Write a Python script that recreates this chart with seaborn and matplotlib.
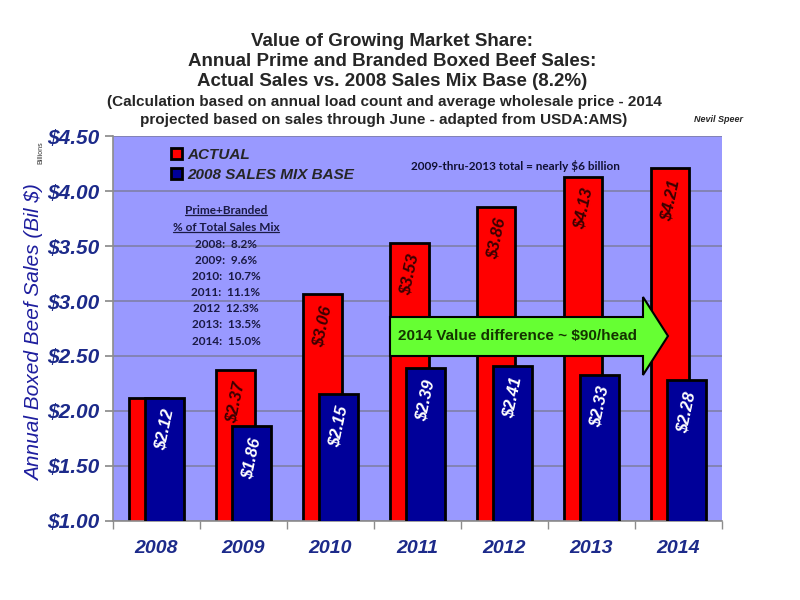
import matplotlib
matplotlib.use('Agg')
import matplotlib.pyplot as plt
import seaborn as sns
import pandas as pd
from matplotlib.patches import Polygon
from matplotlib.lines import Line2D
from matplotlib.ticker import FixedLocator

# ---------------- data ----------------
years = ['2008', '2009', '2010', '2011', '2012', '2013', '2014']
actual = [2.12, 2.37, 3.06, 3.53, 3.86, 4.13, 4.21]
base = [2.12, 1.86, 2.15, 2.39, 2.41, 2.33, 2.28]
series_names = ['ACTUAL', '2008 SALES MIX BASE']
y_ticks = [1.00, 1.50, 2.00, 2.50, 3.00, 3.50, 4.00, 4.50]
mix_header = ['Prime+Branded', '% of Total Sales Mix']
mix_rows = ['2008:  8.2%', '2009:  9.6%', '2010:  10.7%', '2011:  11.1%',
            '2012  12.3%', '2013:  13.5%', '2014:  15.0%']
title_lines = ['Value of Growing Market Share:',
               'Annual Prime and Branded Boxed Beef Sales:',
               'Actual Sales vs. 2008 Sales Mix Base (8.2%)']
sub_lines = ['(Calculation based on annual load count and average wholesale price - 2014',
             'projected based on sales through June - adapted from USDA:AMS)']
note_total = '2009-thru-2013 total = nearly $6 billion'
arrow_text = '2014 Value difference ~ $90/head'

RED = '#FF0000'
BLUE = '#000099'
BG = '#9999FF'
TICKBLUE = '#1C2A8A'

df = pd.DataFrame({
    'year': years * 2,
    'value': actual + base,
    'series': [series_names[0]] * len(years) + [series_names[1]] * len(years),
})

sns.set_theme(style='white')
plt.rcParams['font.family'] = ['Liberation Sans', 'DejaVu Sans']

fig = plt.figure(figsize=(8, 6), dpi=100)
fig.patch.set_facecolor('white')
ax = fig.add_axes([0.141, 0.132, 0.761, 0.641])
ax.set_facecolor(BG)

sns.barplot(data=df, x='year', y='value', hue='series', hue_order=series_names,
            palette=[RED, BLUE], saturation=1, width=0.88, dodge=True,
            edgecolor='black', linewidth=2, ax=ax)

# overlap the two bars in each group
shifts = [0.13, -0.125]
zs = [2, 4]
for cont, sh, z in zip(ax.containers, shifts, zs):
    for bar in cont:
        bar.set_x(bar.get_x() + sh)
        bar.set_zorder(z)

# value labels
for i, (a, b) in enumerate(zip(actual, base)):
    rb = ax.containers[0][i]
    bb = ax.containers[1][i]
    if a != b:
        ax.annotate(f'${a:.2f}', xy=(rb.get_x() + rb.get_width() / 2, a),
                    xytext=(0, -23), textcoords='offset points', rotation=78,
                    ha='center', va='center', fontsize=12, fontweight='bold',
                    fontstyle='italic', color='#3A0000', zorder=3)
    ax.annotate(f'${b:.2f}', xy=(bb.get_x() + bb.get_width() / 2, b),
                xytext=(0, -23), textcoords='offset points', rotation=78,
                ha='center', va='center', fontsize=12, fontweight='bold',
                fontstyle='italic', color='white', zorder=5)

ax.set_ylim(1.0, 4.5)
ax.set_xlim(-0.5, len(years) - 0.5)
ax.yaxis.set_major_locator(FixedLocator(y_ticks))
ax.set_yticklabels([f'${t:.2f}' for t in y_ticks])
ax.grid(axis='y', color='#7F7FA8', lw=1.2, zorder=0)
ax.set_axisbelow(True)
ax.set_xlabel('')
ax.set_ylabel('')

for s in ['top', 'right']:
    ax.spines[s].set_visible(False)
for s in ['left', 'bottom']:
    ax.spines[s].set_color('#8C8C8C')
    ax.spines[s].set_linewidth(1.2)

ax.tick_params(axis='y', left=True, length=6, color='#8C8C8C', pad=4)
ax.tick_params(axis='x', bottom=False, length=0, pad=14)
ax.set_xticks([i - 0.5 for i in range(len(years) + 1)], minor=True)
ax.tick_params(axis='x', which='minor', bottom=True, length=6, color='#8C8C8C')
for lab in ax.get_yticklabels():
    lab.set_fontsize(15)
    lab.set_fontweight('bold')
    lab.set_fontstyle('italic')
    lab.set_color(TICKBLUE)
for lab in ax.get_xticklabels():
    lab.set_fontsize(14)
    lab.set_fontweight('bold')
    lab.set_fontstyle('italic')
    lab.set_color(TICKBLUE)

# legend
sns.move_legend(ax, 'upper left', bbox_to_anchor=(0.085, 0.985), frameon=False,
                title=None, prop={'weight': 'bold', 'style': 'italic', 'size': 11},
                handlelength=0.75, handleheight=0.75, labelspacing=0.4,
                handletextpad=0.35, borderaxespad=0)
leg = ax.get_legend()
for h in leg.legend_handles:
    h.set_edgecolor('black')
    h.set_linewidth(2)
leg.set_zorder(10)

# y label
fig.text(0.043, 1 - 333 / 600, 'Annual Boxed Beef Sales (Bil $)', rotation=90,
         ha='center', va='center', fontsize=15, fontstyle='italic', color='#1E1E9E')
fig.text(0.051, 1 - 153 / 600, 'Billions', rotation=90, ha='center', va='center',
         fontsize=5, color='#333333')

# titles
ty = [42, 62, 82]
for t, y in zip(title_lines, ty):
    fig.text(0.49, 1 - y / 600, t, ha='center', va='center', fontsize=13.5,
             fontweight='bold')
sy = [102, 120]
for t, y in zip(sub_lines, sy):
    fig.text(0.48, 1 - y / 600, t, ha='center', va='center', fontsize=11,
             fontweight='bold')
fig.text(718 / 800, 1 - 119 / 600, 'Nevil Speer', ha='center', va='center',
         fontsize=6.5, fontweight='bold', fontstyle='italic')

# note
fig.text(515 / 800, 1 - 166 / 600, note_total, ha='center', va='center',
         fontsize=8.5, family=['Lato', 'DejaVu Sans'], fontweight='bold', color='#111133')

# table
hdr_texts = []
for t, y in zip(mix_header, [210, 227]):
    hdr_texts.append(fig.text(226 / 800, 1 - y / 600, t, ha='center', va='center',
                              fontsize=8.5, family=['Lato', 'DejaVu Sans'],
                              fontweight='bold', color='#1A1A44'))
for k, t in enumerate(mix_rows):
    fig.text(226 / 800, 1 - (244 + 16.2 * k) / 600, t, ha='center', va='center',
             fontsize=8.5, family=['Lato', 'DejaVu Sans'], fontweight='bold',
             color='#1A1A44')

# arrow (figure pixel coords converted to fraction)
pts = [(390, 317), (643, 317), (643, 297), (668, 336), (643, 375), (643, 356), (390, 356)]
poly = Polygon([(x / 800, 1 - y / 600) for x, y in pts], closed=True,
               transform=fig.transFigure, facecolor='#66FF33', edgecolor='black',
               linewidth=1.5, zorder=8)
fig.patches.append(poly)
fig.text(518 / 800, 1 - 336 / 600, arrow_text, ha='center', va='center',
         fontsize=11, fontweight='bold', color='#143300', zorder=9)

# underlines for table header
fig.canvas.draw()
r = fig.canvas.get_renderer()
for t in hdr_texts:
    bb = t.get_window_extent(r)
    x0, x1 = bb.x0 / fig.bbox.width, bb.x1 / fig.bbox.width
    yy = (bb.y0 + 0.5) / fig.bbox.height
    fig.add_artist(Line2D([x0, x1], [yy, yy], color='#1A1A44', lw=0.9,
                          transform=fig.transFigure))

fig.savefig('out.png', dpi=100)
